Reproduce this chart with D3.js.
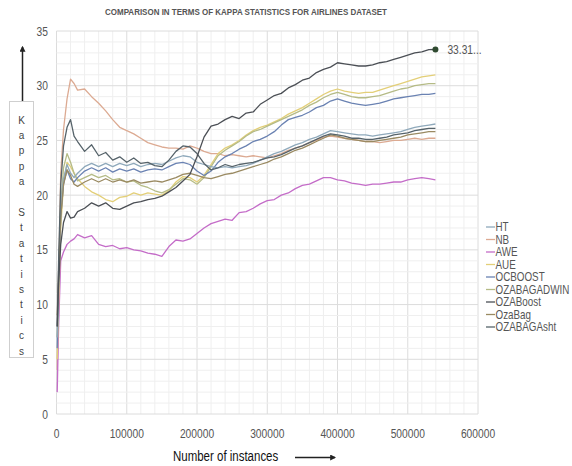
<html>
<head>
<title>Kappa airlines</title>
<script src="https://d3js.org/d3.v7.min.js"></script>
<style>
body { margin: 0; background-color: white; }
text { font-family: 'Liberation Sans', Arial, sans-serif; }
</style>
</head>
<body>
<svg id="svg"></svg>
<script>

var instances = [1000, 3000, 6000, 10000, 15000, 20000, 25000, 30000,
	40000, 50000, 60000, 70000, 80000, 90000, 100000, 110000, 120000, 130000, 140000, 150000,
	160000, 170000, 180000, 190000, 200000, 210000, 220000, 230000, 240000, 250000,
	260000, 270000, 280000, 290000, 300000, 310000, 320000, 330000, 340000, 350000,
	360000, 370000, 380000, 390000, 400000, 410000, 420000, 430000, 440000, 450000,
	460000, 470000, 480000, 490000, 500000, 510000, 520000, 530000, 539383];

var seriesNames = ["HT", "NB", "AWE", "AUE", "OCBOOST", "OZABAGADWIN", "OZABoost", "OzaBag", "OZABAGAsht"];
var seriesColors = ["#8fa9bb", "#dcaa92", "#c46cc8", "#e3cf78", "#6a82b2", "#b5bb86", "#4b4f55", "#9a8a62", "#56636a"];

var HT = [7, 13, 19, 21.5, 22.8, 22.0, 21.6, 22.0,
	22.6, 22.9, 22.6, 22.9, 22.6, 22.9, 22.7, 22.9, 22.6, 22.8, 22.9, 22.8,
	23.1, 23.4, 23.6, 23.5, 23.0, 22.8, 22.6, 22.5, 22.6, 22.5,
	22.6, 22.7, 22.9, 23.2, 23.5, 23.8, 24.0, 24.3, 24.6, 24.8,
	25.1, 25.3, 25.6, 25.9, 25.8, 25.7, 25.6, 25.5, 25.5, 25.4,
	25.5, 25.6, 25.7, 25.8, 26.0, 26.2, 26.3, 26.4, 26.5];

var NB = [4, 12, 22, 26, 28.8, 30.6, 30.2, 29.6,
	29.7, 29.0, 28.4, 27.7, 26.9, 26.2, 25.9, 25.6, 25.2, 24.8, 24.6, 24.4,
	24.3, 24.3, 24.2, 24.5, 24.3, 24.0, 23.8, 23.8, 23.6, 23.7,
	23.6, 23.5, 23.6, 23.5, 23.4, 23.6, 23.8, 24.1, 24.3, 24.5,
	24.8, 25.0, 25.3, 25.4, 25.3, 25.2, 25.1, 25.0, 24.9, 24.9,
	24.8, 24.9, 25.0, 25.0, 25.1, 25.2, 25.1, 25.2, 25.2];

var AWE = [2, 8, 14.0, 14.8, 15.5, 15.8, 16.0, 16.4,
	16.1, 16.3, 15.5, 15.3, 15.4, 15.1, 15.2, 15.0, 14.9, 14.7, 14.6, 14.4,
	15.3, 15.9, 15.8, 16.0, 16.5, 17.0, 17.4, 17.6, 17.8, 17.7,
	18.4, 18.5, 18.8, 19.2, 19.5, 19.6, 20.0, 20.2, 20.6, 20.9,
	21.0, 21.3, 21.6, 21.6, 21.4, 21.3, 21.1, 21.0, 20.9, 21.0,
	21.0, 21.1, 21.2, 21.2, 21.4, 21.5, 21.6, 21.5, 21.4];

var AUE = [5, 10, 17, 21, 23.0, 22.6, 22.0, 21.5,
	20.8, 20.3, 20.0, 19.6, 19.4, 19.8, 19.9, 20.2, 20.0, 20.2, 20.1, 20.0,
	20.4, 21.2, 21.7, 21.6, 21.2, 21.8, 22.8, 23.8, 24.3, 24.6,
	25.0, 25.5, 25.9, 26.2, 26.4, 26.7, 27.0, 27.4, 27.7, 28.0,
	28.4, 28.8, 29.2, 29.5, 29.7, 29.5, 29.4, 29.3, 29.4, 29.4,
	29.6, 29.8, 30.0, 30.2, 30.4, 30.6, 30.8, 30.9, 31.0];

var OCBOOST = [6, 12, 18, 21, 22.3, 21.5, 21.2, 21.6,
	22.2, 22.5, 22.2, 22.5, 22.1, 22.4, 22.2, 22.4, 22.1, 22.3, 22.4, 22.3,
	22.6, 22.9, 23.0, 22.8, 22.2, 21.8, 22.2, 23.0, 23.5, 23.8,
	24.2, 24.5, 24.9, 25.1, 25.4, 25.8, 26.4, 26.9, 27.1, 27.3,
	27.6, 28.0, 28.2, 28.6, 28.8, 28.6, 28.4, 28.3, 28.2, 28.3,
	28.4, 28.6, 28.8, 28.9, 29.0, 29.1, 29.2, 29.2, 29.3];

var OZABAGADWIN = [7, 12, 19, 22.5, 23.8, 23.0, 22.0, 21.3,
	21.6, 21.9, 21.6, 21.8, 21.4, 21.5, 21.2, 21.3, 20.9, 20.7, 20.4, 20.2,
	20.5, 21.0, 21.5, 21.4, 21.0, 21.6, 22.6, 23.6, 24.1, 24.5,
	24.9, 25.4, 25.8, 26.0, 26.3, 26.6, 26.9, 27.2, 27.5, 27.8,
	28.2, 28.5, 28.9, 29.2, 29.4, 29.2, 29.0, 28.9, 28.9, 29.0,
	29.1, 29.3, 29.5, 29.7, 29.8, 30.0, 30.1, 30.2, 30.2];

var OZABoost = [8, 12, 15.5, 17.5, 18.5, 17.9, 18.0, 18.5,
	18.8, 19.3, 19.0, 19.3, 18.8, 18.7, 19.0, 19.3, 19.4, 19.6, 19.7, 19.9,
	20.3, 20.7, 21.3, 21.9, 23.5, 25.3, 26.3, 26.5, 26.9, 27.2,
	27.0, 27.5, 27.6, 28.3, 28.7, 29.1, 29.3, 29.8, 30.1, 30.5,
	30.7, 31.2, 31.5, 31.7, 32.1, 32.0, 31.9, 31.8, 31.8, 31.9,
	32.1, 32.2, 32.4, 32.6, 32.8, 33.0, 33.1, 33.3, 33.31];

var OzaBag = [9, 13, 18, 21, 22.3, 21.8, 21.0, 20.8,
	21.2, 21.5, 21.2, 21.5, 21.2, 21.4, 21.2, 21.4, 21.1, 21.2, 21.3, 21.2,
	21.4, 21.6, 21.9, 22.0, 21.8, 21.6, 21.5, 21.7, 21.9, 22.0,
	22.2, 22.4, 22.6, 22.8, 23.0, 23.3, 23.5, 23.8, 24.1, 24.3,
	24.6, 24.9, 25.2, 25.5, 25.4, 25.2, 25.1, 25.0, 24.9, 24.9,
	25.0, 25.1, 25.2, 25.3, 25.5, 25.6, 25.7, 25.8, 25.8];

var OZABAGAsht = [8, 14, 21, 24.5, 26.2, 26.9, 25.4, 24.9,
	24.0, 24.6, 23.6, 23.9, 23.2, 23.5, 23.0, 23.4, 22.9, 23.0, 22.7, 22.6,
	23.2, 24.0, 24.5, 24.4, 23.8, 22.9, 22.3, 22.5, 22.8, 22.6,
	22.8, 22.9, 23.0, 23.2, 23.4, 23.5, 23.7, 24.0, 24.3, 24.5,
	24.8, 25.1, 25.4, 25.6, 25.5, 25.4, 25.2, 25.2, 25.1, 25.1,
	25.2, 25.3, 25.5, 25.6, 25.7, 25.9, 26.0, 26.1, 26.1];

var allSeries = [HT, NB, AWE, AUE, OCBOOST, OZABAGADWIN, OZABoost, OzaBag, OZABAGAsht];
var xTicks = [0, 100000, 200000, 300000, 400000, 500000, 600000];
var yTicks = [0, 5, 10, 15, 20, 25, 30, 35];
var yLabel = "Kappa Statistics";

var width = 572, height = 466;
var svg = d3.select("#svg").attr("width", width).attr("height", height);

var xScale = d3.scaleLinear().domain([0, 600000]).range([56.5, 478]);
var yScale = d3.scaleLinear().domain([0, 35]).range([414, 31]);

// no narrow font installed, so squeeze the regular one
var squeeze = 0.82;
function narrowText(g, x, y, txt, size, color, anchor) {
	return g.append("text")
		.attr("transform", "translate(" + x + "," + y + ") scale(" + squeeze + ",1)")
		.attr("text-anchor", anchor || "start")
		.style("font-size", size + "px")
		.style("fill", color)
		.text(txt);
}

//// grid: minor then major
svg.append("g").selectAll("line")
	.data(d3.range(0, 600001, 20000))
	.enter().append("line")
	.attr("x1", d => xScale(d)).attr("x2", d => xScale(d))
	.attr("y1", yScale(0)).attr("y2", yScale(35))
	.style("stroke", d => d % 100000 == 0 ? "#dcdcdc" : "#efefef")
	.style("stroke-width", 1);

svg.append("g").selectAll("line")
	.data(d3.range(0, 36, 1))
	.enter().append("line")
	.attr("x1", xScale(0)).attr("x2", xScale(600000))
	.attr("y1", d => yScale(d)).attr("y2", d => yScale(d))
	.style("stroke", d => d % 5 == 0 ? "#dcdcdc" : "#efefef")
	.style("stroke-width", 1);

// tick labels
var tickG = svg.append("g");
yTicks.forEach(function(d) {
	narrowText(tickG, 48, yScale(d) + 4.5, d, 12.5, "#555", "end");
});
xTicks.forEach(function(d) {
	narrowText(tickG, xScale(d), 438, d, 12.5, "#555", "middle");
});

//// the lines
var line = d3.line()
	.x((d, i) => xScale(instances[i]))
	.y(d => yScale(d));

// draw in an order that keeps the dark ones on top
var drawOrder = [1, 2, 3, 5, 4, 0, 7, 8, 6];
drawOrder.forEach(function(k) {
	svg.append("path")
		.attr("d", line(allSeries[k]))
		.style("fill", "none")
		.style("stroke", seriesColors[k])
		.style("stroke-width", 1.3)
		.style("stroke-linejoin", "round");
});

// end point of the top curve
var last = instances.length - 1;
svg.append("circle")
	.attr("cx", xScale(instances[last]))
	.attr("cy", yScale(OZABoost[last]))
	.attr("r", 3)
	.style("fill", "#2f4a30");

narrowText(svg, xScale(instances[last]) + 12, yScale(OZABoost[last]) + 4.5,
	OZABoost[last] + "...", 12.5, "#555");

//// legend
var legend = svg.append("g").attr("transform", "translate(486,227)");
seriesNames.forEach(function(name, i) {
	legend.append("line")
		.attr("x1", 0).attr("x2", 9)
		.attr("y1", i * 12.5).attr("y2", i * 12.5)
		.style("stroke", seriesColors[i])
		.style("stroke-width", 1.3);
	narrowText(legend, 9.5, i * 12.5 + 4.3, name, 12, "#555");
});

//// title
svg.append("text")
	.attr("x", 105)
	.attr("y", 15)
	.attr("textLength", 282)
	.attr("lengthAdjust", "spacingAndGlyphs")
	.style("font-size", "8.5px")
	.style("font-weight", "bold")
	.style("fill", "#555")
	.text("COMPARISON IN TERMS OF KAPPA STATISTICS FOR AIRLINES DATASET");

//// y label box with stacked letters
svg.append("rect")
	.attr("x", 9.5).attr("y", 101.5)
	.attr("width", 24).attr("height", 256)
	.style("fill", "white")
	.style("stroke", "#cfcfcf");

yLabel.split("").forEach(function(ch, i) {
	svg.append("text")
		.attr("x", 21.5)
		.attr("y", 120 + i * 15.4 + 3.5)
		.attr("text-anchor", "middle")
		.style("font-size", "10px")
		.style("fill", "#444")
		.text(ch);
});

// arrows
svg.append("defs").append("marker")
	.attr("id", "head")
	.attr("viewBox", "0 0 10 10")
	.attr("refX", 8).attr("refY", 5)
	.attr("markerWidth", 4).attr("markerHeight", 4)
	.attr("orient", "auto")
	.append("path").attr("d", "M0,0 L10,5 L0,10 z").style("fill", "#222");

svg.append("line")
	.attr("x1", 22.5).attr("x2", 22.5)
	.attr("y1", 101).attr("y2", 47)
	.style("stroke", "#222").style("stroke-width", 1.5)
	.attr("marker-end", "url(#head)");

narrowText(svg, 173, 461, "Number of instances", 14, "#111");

svg.append("line")
	.attr("x1", 295).attr("x2", 335)
	.attr("y1", 457.5).attr("y2", 457.5)
	.style("stroke", "#222").style("stroke-width", 1.5)
	.attr("marker-end", "url(#head)");

</script>
</body>
</html>
